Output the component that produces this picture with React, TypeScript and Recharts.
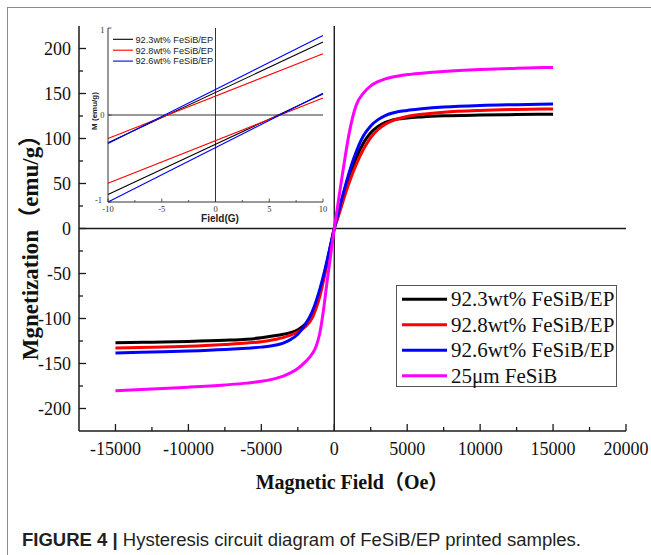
import React from 'react';
import { LineChart, Line, XAxis, YAxis, ReferenceLine } from 'recharts';

// ---- main chart data (Magnetic field in Oe, magnetization in emu/g) ----
const fieldOe = [
  -15000, -12500, -10000, -7500, -6000, -5000, -4000, -3500, -3000, -2500, -2000, -1500, -1250, -1000, -750, -500, -250,
  0,
  250, 500, 750, 1000, 1250, 1500, 2000, 2500, 3000, 3500, 4000, 5000, 6000, 7500, 10000, 12500, 15000,
];
const m923 = [
  -126.9, -126.3, -125.5, -124.2, -123, -121.5, -119, -117.5, -115.8, -112.5, -106.5, -95, -85, -72, -56, -38, -19,
  0,
  14, 28, 42, 55, 67, 78, 95, 106.5, 113.5, 118, 120.5, 122.8, 124, 125.2, 126.1, 126.6, 127,
];
const m928 = [
  -132.8, -132, -130.8, -128.8, -127.3, -125.8, -123, -121.2, -118.5, -115, -109.5, -99, -89, -76, -59, -40, -20,
  0,
  12, 25, 38, 50, 61, 71, 88, 101, 110, 116, 119.8, 124.5, 127, 129.2, 131.2, 132.3, 132.9,
];
const m926 = [
  -138.3, -137.3, -136.2, -134.5, -133, -131.8, -129.5, -127.3, -123.5, -117.5, -107, -92, -81, -68, -53, -36, -18,
  0,
  16, 32, 47, 61, 74, 85, 103, 114, 121, 125.5, 128.3, 131.2, 133, 135, 136.8, 137.6, 138.2,
];
const m25um = [
  -180.2, -178.3, -176.3, -173.8, -171.8, -169.8, -166.5, -164, -160.5, -155.5, -148.5, -139, -131, -117, -92, -60, -30,
  0,
  27, 54, 80, 104, 123, 137, 150.5, 158.5, 163.2, 166.3, 168.4, 171, 172.6, 174.5, 176.6, 178, 179,
];
const seriesNames = ['92.3wt% FeSiB/EP', '92.8wt% FeSiB/EP', '92.6wt% FeSiB/EP', '25μm FeSiB'];
const seriesColors = ['#000000', '#ff0000', '#0000ff', '#ff00ff'];
const xTicks = [-15000, -12500, -10000, -7500, -5000, -2500, 0, 2500, 5000, 7500, 10000, 12500, 15000, 17500, 20000];
const yTicks = [-200, -175, -150, -125, -100, -75, -50, -25, 0, 25, 50, 75, 100, 125, 150, 175, 200];

// ---- inset data (Field in G, M in emu/g) ----
const insetField = [-10, 10];
const insetUpper923 = [-0.32, 0.838];
const insetUpper928 = [-0.27, 0.704];
const insetUpper926 = [-0.327, 0.915];
const insetLower923 = [-0.915, 0.242];
const insetLower928 = [-0.785, 0.195];
const insetLower926 = [-1.0, 0.25];
const insetNames = ['92.3wt% FeSiB/EP', '92.8wt% FeSiB/EP', '92.6wt% FeSiB/EP'];
const insetColors = ['#000000', '#ff0000', '#0000ff'];
const insetXTicks = [-10, -7.5, -5, -2.5, 0, 2.5, 5, 7.5, 10];
const insetYTicks = [-1, 0, 1];

const mainData = fieldOe.map((h, i) => ({ h, s0: m923[i], s1: m928[i], s2: m926[i], s3: m25um[i] }));
const toInset = (ys: number[]) => insetField.map((f, i) => ({ f, m: ys[i] }));
const insetLines = [
  { data: toInset(insetUpper923), color: insetColors[0] },
  { data: toInset(insetLower923), color: insetColors[0] },
  { data: toInset(insetUpper928), color: insetColors[1] },
  { data: toInset(insetLower928), color: insetColors[1] },
  { data: toInset(insetUpper926), color: insetColors[2] },
  { data: toInset(insetLower926), color: insetColors[2] },
];

const SERIF = "'Liberation Serif', 'Times New Roman', 'Noto Sans CJK SC', serif";
const SANS = "'Liberation Sans', Arial, sans-serif";
const AX = '#1a1a1a';

const MainXTick = (props: any) => {
  const { x, y, payload } = props;
  const v = payload.value;
  const major = v % 5000 === 0;
  return (
    <g>
      <line x1={x} x2={x} y1={y} y2={y - (major ? 7 : 4)} stroke={AX} strokeWidth={1.3} />
      {major && (
        <text x={x} y={y + 24} textAnchor="middle" fontFamily={SERIF} fontSize={18} fill="#111">
          {String(v)}
        </text>
      )}
    </g>
  );
};

const MainYTick = (props: any) => {
  const { x, y, payload } = props;
  const v = payload.value;
  const major = v % 50 === 0;
  return (
    <g>
      <line x1={x} x2={x + (major ? 7 : 4)} y1={y} y2={y} stroke={AX} strokeWidth={1.3} />
      {major && (
        <text x={x - 8} y={y + 6} textAnchor="end" fontFamily={SERIF} fontSize={18} fill="#111">
          {String(v)}
        </text>
      )}
    </g>
  );
};

const InsetXTick = (props: any) => {
  const { x, y, payload } = props;
  const v = payload.value;
  const major = v % 5 === 0;
  return (
    <g>
      <line x1={x} x2={x} y1={y} y2={y - (major ? 3.5 : 2)} stroke="#333" strokeWidth={0.8} />
      {major && (
        <text x={x} y={y + 10} textAnchor="middle" fontFamily={SERIF} fontSize={8.5} fill="#333">
          {String(v)}
        </text>
      )}
    </g>
  );
};

const InsetYTick = (props: any) => {
  const { x, y, payload } = props;
  const v = payload.value;
  const dy = v === -1 ? 1 : v === 1 ? 5 : 3;
  const dx = v === -1 ? 6 : 3.5;
  return (
    <g>
      <line x1={x} x2={x + 3.5} y1={y} y2={y} stroke="#333" strokeWidth={0.8} />
      <text x={x - dx} y={y + dy} textAnchor="end" fontFamily={SERIF} fontSize={8.5} fill="#333">
        {String(v)}
      </text>
    </g>
  );
};

export default function App() {
  return (
    <div style={{ position: 'absolute', left: 0, top: 0, width: 651, height: 555, overflow: 'hidden', background: '#fff' }}>
      <div
        style={{
          position: 'absolute', left: 7, top: 7, width: 700, height: 600,
          borderLeft: '1.5px solid #8c8c8c', borderTop: '1.5px solid #8c8c8c',
        }}
      />
      {/* main chart */}
      <div style={{ position: 'absolute', left: 0, top: 0 }}>
        <LineChart width={651} height={480} data={mainData} margin={{ top: 26, right: 25, bottom: 9, left: 0 }}>
          <XAxis
            type="number" dataKey="h" domain={[-17500, 20000]} ticks={xTicks} interval={0}
            tick={<MainXTick />} tickLine={false} tickSize={0} tickMargin={0} height={40}
            axisLine={{ stroke: AX, strokeWidth: 1.5 }}
          />
          <XAxis xAxisId="t" orientation="top" type="number" domain={[-17500, 20000]} height={0} tick={false} tickLine={false} axisLine={{ stroke: AX, strokeWidth: 1.5 }} />
          <YAxis
            type="number" domain={[-225, 225]} ticks={yTicks} interval={0} width={79}
            tick={<MainYTick />} tickLine={false} tickSize={0} tickMargin={0}
            axisLine={{ stroke: AX, strokeWidth: 1.5 }}
          />
          <YAxis yAxisId="r" orientation="right" type="number" domain={[-225, 225]} width={0} tick={false} tickLine={false} axisLine={{ stroke: AX, strokeWidth: 1.5 }} />
          <ReferenceLine x={0} stroke={AX} strokeWidth={1.4} />
          <ReferenceLine y={0} stroke={AX} strokeWidth={1.4} />
          <Line dataKey="s0" type="monotone" stroke={seriesColors[0]} strokeWidth={3} dot={false} isAnimationActive={false} />
          <Line dataKey="s1" type="monotone" stroke={seriesColors[1]} strokeWidth={3} dot={false} isAnimationActive={false} />
          <Line dataKey="s2" type="monotone" stroke={seriesColors[2]} strokeWidth={3} dot={false} isAnimationActive={false} />
          <Line dataKey="s3" type="monotone" stroke={seriesColors[3]} strokeWidth={3} dot={false} isAnimationActive={false} />
        </LineChart>
      </div>
      {/* inset chart */}
      <div style={{ position: 'absolute', left: 0, top: 0 }}>
        <LineChart width={335} height={226} margin={{ top: 28, right: 12, bottom: 4, left: 0 }}>
          <XAxis
            type="number" dataKey="f" domain={[-10, 10]} ticks={insetXTicks} interval={0}
            tick={<InsetXTick />} tickLine={false} tickSize={0} tickMargin={0} height={20}
            axisLine={{ stroke: '#333', strokeWidth: 1 }} allowDuplicatedCategory={false}
          />
          <XAxis xAxisId="t" orientation="top" type="number" domain={[-10, 10]} height={0} tick={false} tickLine={false} axisLine={{ stroke: '#333', strokeWidth: 1 }} />
          <YAxis
            type="number" dataKey="m" domain={[-1, 1]} ticks={insetYTicks} interval={0} width={108}
            tick={<InsetYTick />} tickLine={false} tickSize={0} tickMargin={0}
            axisLine={{ stroke: '#333', strokeWidth: 1 }}
          />
          <YAxis yAxisId="r" orientation="right" type="number" domain={[-1, 1]} width={0} tick={false} tickLine={false} axisLine={{ stroke: '#333', strokeWidth: 1 }} />
          <ReferenceLine x={0} stroke="#333" strokeWidth={1} />
          <ReferenceLine y={0} stroke="#333" strokeWidth={1} />
          {insetLines.map((l, i) => (
            <Line key={i} data={l.data} dataKey="m" type="linear" stroke={l.color} strokeWidth={1.1} dot={false} isAnimationActive={false} />
          ))}
        </LineChart>
      </div>
      {/* texts, legends, caption */}
      <svg width={651} height={555} style={{ position: 'absolute', left: 0, top: 0, pointerEvents: 'none' }}>
        <text transform="translate(38,242) rotate(-90)" textAnchor="middle" fontFamily={SERIF} fontWeight="bold" fontSize={23} fill="#111">
          Mgnetization（emu/g）
        </text>
        <text x={352} y={489} textAnchor="middle" fontFamily={SERIF} fontWeight="bold" fontSize={20} fill="#111">
          Magnetic Field（Oe）
        </text>
        {/* inset titles */}
        <text transform="translate(97,111) rotate(-90)" textAnchor="middle" fontFamily={SANS} fontWeight="bold" fontSize={8} fill="#222">
          M (emu/g)
        </text>
        <text x={220} y={221.5} textAnchor="middle" fontFamily={SANS} fontWeight="bold" fontSize={10} fill="#222">
          Field(G)
        </text>
        {/* inset legend */}
        {insetNames.map((n, i) => (
          <g key={n}>
            <line x1={113} x2={133} y1={39.3 + i * 10.9} y2={39.3 + i * 10.9} stroke={insetColors[i]} strokeWidth={1.1} />
            <text x={135.5} y={42.6 + i * 10.9} fontFamily={SANS} fontSize={9.2} fill="#222">{n}</text>
          </g>
        ))}
        {/* main legend */}
        <rect x={396.5} y={285.5} width={220} height={101} fill="#fff" stroke="#555" strokeWidth={1} />
        {seriesNames.map((n, i) => (
          <g key={n}>
            <line x1={402} x2={447} y1={299.3 + i * 25.5} y2={299.3 + i * 25.5} stroke={seriesColors[i]} strokeWidth={3} />
            <text x={451} y={306.3 + i * 25.5} fontFamily={SERIF} fontSize={21} fill="#111">{n}</text>
          </g>
        ))}
        {/* caption */}
        <text x={22} y={546} fontFamily={SANS} fontSize={17.5} fill="#231f20" textLength={559} lengthAdjust="spacingAndGlyphs">
          <tspan fontWeight="bold">FIGURE 4 | </tspan>
          <tspan>Hysteresis circuit diagram of FeSiB/EP printed samples.</tspan>
        </text>
      </svg>
    </div>
  );
}
